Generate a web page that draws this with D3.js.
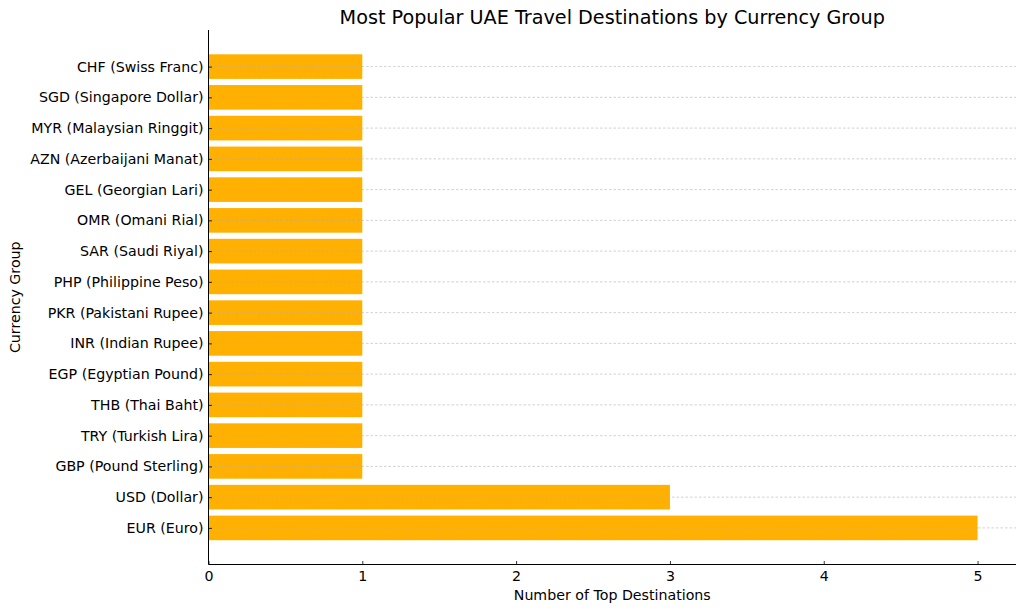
<!DOCTYPE html>
<html><head><meta charset="utf-8">
<script src="https://cdn.jsdelivr.net/npm/d3@7"></script>
<style>body{margin:0;background:#fff}svg{display:block}text{font-family:"DejaVu Sans",sans-serif;fill:#000}</style>
</head><body><svg id="c" width="1024" height="611"></svg>
<script>
const categories = ["EUR (Euro)","USD (Dollar)","GBP (Pound Sterling)","TRY (Turkish Lira)","THB (Thai Baht)","EGP (Egyptian Pound)","INR (Indian Rupee)","PKR (Pakistani Rupee)","PHP (Philippine Peso)","SAR (Saudi Riyal)","OMR (Omani Rial)","GEL (Georgian Lari)","AZN (Azerbaijani Manat)","MYR (Malaysian Ringgit)","SGD (Singapore Dollar)","CHF (Swiss Franc)"];
const values = [5,3,1,1,1,1,1,1,1,1,1,1,1,1,1,1];
const xTicks = [0,1,2,3,4,5];
const title = "Most Popular UAE Travel Destinations by Currency Group";
const xLabel = "Number of Top Destinations";
const yLabel = "Currency Group";

const L=208.5, R=1016, T=30, B=564.5;
const svg=d3.select("#c");
const n=categories.length;
const x=d3.scaleLinear().domain([0,5.25]).range([L,R]);
const y=d3.scaleLinear().domain([-0.4-0.79,(n-1)+0.4+0.79]).range([B,T]);
const bh=Math.abs(y(0.8)-y(0));

svg.append("g").selectAll("rect").data(values).join("rect")
  .attr("x",x(0)).attr("y",(d,i)=>y(i+0.4)).attr("width",d=>x(d)-x(0)).attr("height",bh)
  .attr("fill","#ffb000");
svg.append("g").selectAll("line").data(categories).join("line")
  .attr("x1",L).attr("x2",R).attr("y1",(d,i)=>y(i)).attr("y2",(d,i)=>y(i))
  .attr("stroke","#b0b0b0").attr("stroke-width",0.8).attr("stroke-dasharray","2.5,2").attr("opacity",0.7);
const xa=d3.axisBottom(x).tickValues(xTicks).tickFormat(d3.format("d")).tickSizeInner(-3.5).tickSizeOuter(0).tickPadding(6);
const gx=svg.append("g").attr("transform",`translate(0,${B})`).call(xa);
const ya=d3.axisLeft(y).tickValues(d3.range(n)).tickFormat(i=>categories[i]).tickSizeInner(-3.5).tickSizeOuter(0).tickPadding(5);
const gy=svg.append("g").attr("transform",`translate(${L},0)`).call(ya);
[gx,gy].forEach(g=>{g.selectAll("text").style("font-size","14.2px").attr("fill","#000");g.selectAll("line").attr("stroke","#000").attr("stroke-width",0.8);g.select(".domain").attr("stroke","#000").attr("stroke-width",1);});
gx.select(".domain").attr("d",`M${L},0H${R}`);
gy.select(".domain").attr("d",`M0,${T}V${B}`);

svg.append("text").attr("x",(L+R)/2).attr("y",23.5).attr("text-anchor","middle").style("font-size","19.2px").text(title);
svg.append("text").attr("x",(L+R)/2).attr("y",600).attr("text-anchor","middle").style("font-size","14.2px").text(xLabel);
svg.append("text").attr("transform",`translate(20,${(T+B)/2}) rotate(-90)`).attr("text-anchor","middle").style("font-size","14.2px").text(yLabel);
</script></body></html>
